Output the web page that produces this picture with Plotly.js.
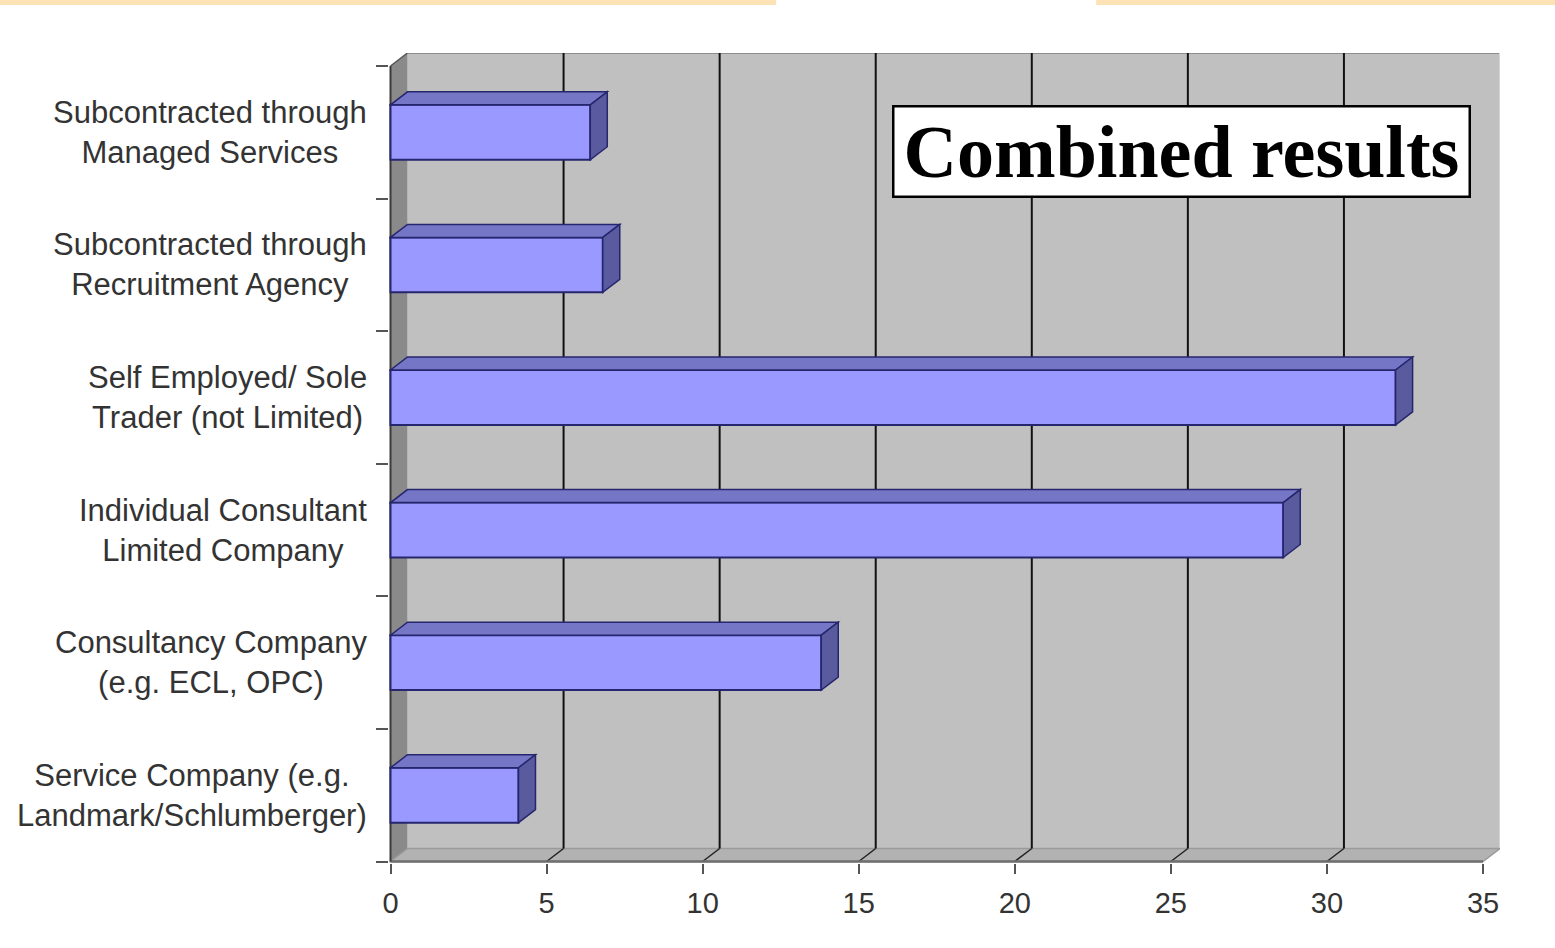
<!DOCTYPE html>
<html>
<head>
<meta charset="utf-8">
<script src="https://cdn.plot.ly/plotly-3.0.1.min.js"></script>
<style>
  html, body { margin: 0; padding: 0; background: #ffffff; }
  #chart { width: 1555px; height: 948px; }
</style>
</head>
<body>
<div id="chart"></div>
<script>
// Employment route categories, listed top to bottom
const categories = [
  'Subcontracted through<br>Managed Services',
  'Subcontracted through<br>Recruitment Agency',
  'Self Employed/ Sole<br>Trader (not Limited)',
  'Individual Consultant<br>Limited Company',
  'Consultancy Company<br>(e.g. ECL, OPC)',
  'Service Company (e.g.<br>Landmark/Schlumberger)'
];
const values = [6.4, 6.8, 32.2, 28.6, 13.8, 4.1];
const xTicks = [0, 5, 10, 15, 20, 25, 30, 35];
const chartTitle = 'Combined results';

// ---- page geometry (pixels) ----
const W = 1555, H = 948;
const X0 = 390.5, XEND = 1482.7;      // front plane: x = 0 and x = 35
const YTOP = 66, YBOT = 862;           // front plane: top and bottom of categories
const DX = 17, DY = 13;                // 3-D depth offset of back wall
const N = categories.length;
const XMAX = xTicks[xTicks.length - 1];
const pxX = (XEND - X0) / XMAX;
const pxY = (YBOT - YTOP) / N;
const dxU = DX / pxX, dyU = DY / pxY;
const padL = 1.5, padB = 1.5;

const plotL = X0 - padL, plotR = XEND + DX;
const plotT = YTOP - DY, plotB = YBOT + padB;
const plotW = plotR - plotL, plotH = plotB - plotT;
const px2x = px => (px - plotL) / plotW;
const px2y = py => (plotB - py) / plotH;

const yPos = categories.map((_, i) => N - 1 - i);
const barW = 0.414;

const yLo = -0.5, yHi = N - 0.5;
const shapes = [];

// back wall
shapes.push({type: 'rect', layer: 'below', xref: 'x', yref: 'y',
  x0: dxU, x1: XMAX + dxU, y0: yLo + dyU, y1: yHi + dyU,
  fillcolor: '#C0C0C0', line: {width: 0}});
// back wall top and right rims
shapes.push({type: 'line', layer: 'below', xref: 'x', yref: 'y',
  x0: dxU, x1: XMAX + dxU, y0: yHi + dyU, y1: yHi + dyU,
  line: {color: '#8E8E8E', width: 2}});
shapes.push({type: 'line', layer: 'below', xref: 'x', yref: 'y',
  x0: XMAX + dxU, x1: XMAX + dxU, y0: yLo + dyU, y1: yHi + dyU,
  line: {color: '#D6D6D6', width: 2}});
// left wall
shapes.push({type: 'path', layer: 'below', xref: 'x', yref: 'y',
  path: `M0,${yLo} L0,${yHi} L${dxU},${yHi + dyU} L${dxU},${yLo + dyU} Z`,
  fillcolor: '#8A8A8A', line: {width: 0}});
// floor
shapes.push({type: 'path', layer: 'below', xref: 'x', yref: 'y',
  path: `M0,${yLo} L${XMAX},${yLo} L${XMAX + dxU},${yLo + dyU} L${dxU},${yLo + dyU} Z`,
  fillcolor: '#B2B2B2', line: {color: '#9A9A9A', width: 1.5}});
// gridlines on the back wall and their traces across the floor
xTicks.filter(v => v > 0 && v < XMAX).forEach(v => {
  shapes.push({type: 'line', layer: 'below', xref: 'x', yref: 'y',
    x0: v + dxU, x1: v + dxU, y0: yLo + dyU, y1: yHi + dyU,
    line: {color: '#111111', width: 2}});
  shapes.push({type: 'line', layer: 'below', xref: 'x', yref: 'y',
    x0: v, x1: v + dxU, y0: yLo, y1: yLo + dyU,
    line: {color: '#222222', width: 1.5}});
});
// front axis edges
shapes.push({type: 'line', layer: 'below', xref: 'x', yref: 'y',
  x0: 0, x1: XMAX, y0: yLo, y1: yLo, line: {color: '#6E6E6E', width: 2.5}});
shapes.push({type: 'line', layer: 'below', xref: 'x', yref: 'y',
  x0: 0, x1: 0, y0: yLo, y1: yHi, line: {color: '#3A3A3A', width: 2}});
shapes.push({type: 'line', layer: 'below', xref: 'x', yref: 'y',
  x0: 0, x1: dxU, y0: yHi, y1: yHi + dyU, line: {color: '#555555', width: 1.5}});

// top and side faces of each bar
const edge = '#26266E';
values.forEach((v, i) => {
  const yc = yPos[i], t = yc + barW / 2, b = yc - barW / 2;
  shapes.push({type: 'path', layer: 'above', xref: 'x', yref: 'y',
    path: `M0,${t} L${v},${t} L${v + dxU},${t + dyU} L${dxU},${t + dyU} Z`,
    fillcolor: '#7676C6', line: {color: edge, width: 1.5}});
  shapes.push({type: 'path', layer: 'above', xref: 'x', yref: 'y',
    path: `M${v},${b} L${v},${t} L${v + dxU},${t + dyU} L${v + dxU},${b + dyU} Z`,
    fillcolor: '#5A5A9E', line: {color: edge, width: 1.5}});
});

// decorative band along the top of the page
shapes.push({type: 'rect', xref: 'paper', yref: 'paper', layer: 'below',
  x0: px2x(0), x1: px2x(776), y0: px2y(5), y1: px2y(0),
  fillcolor: '#FDE2B6', line: {width: 0}});
shapes.push({type: 'rect', xref: 'paper', yref: 'paper', layer: 'below',
  x0: px2x(1096), x1: px2x(W), y0: px2y(5), y1: px2y(0),
  fillcolor: '#FDE2B6', line: {width: 0}});

// category labels, centred lines, right edge against the axis
const annotations = categories.map((c, i) => ({
  xref: 'paper', yref: 'y', x: px2x(369), y: yPos[i],
  xanchor: 'right', yanchor: 'middle', align: 'center', showarrow: false,
  text: c, font: {family: 'Liberation Sans, Arial, sans-serif', size: 31, color: '#333333'}
}));
// boxed chart title
annotations.push({
  xref: 'paper', yref: 'paper', x: px2x(1181.5), y: px2y(151.5),
  xanchor: 'center', yanchor: 'middle', showarrow: false,
  text: '<b>' + chartTitle + '</b>',
  font: {family: 'Liberation Serif, Times New Roman, serif', size: 74, color: '#000000'},
  bgcolor: '#FFFFFF', bordercolor: '#000000', borderwidth: 2.5, borderpad: 2,
  width: 570, height: 84
});

const trace = {
  type: 'bar', orientation: 'h',
  x: values, y: yPos, width: barW,
  marker: {color: '#9999FF', line: {color: edge, width: 2}},
  hoverinfo: 'skip'
};

const layout = {
  width: W, height: H,
  margin: {l: plotL, r: W - plotR, t: plotT, b: H - plotB, pad: 0},
  paper_bgcolor: '#FFFFFF', plot_bgcolor: 'rgba(0,0,0,0)',
  showlegend: false,
  xaxis: {
    range: [-padL / pxX, XMAX + dxU], fixedrange: true,
    tickvals: xTicks, ticks: 'outside', ticklen: 10, tickwidth: 2, tickcolor: '#555555',
    ticklabelstandoff: 4,
    tickfont: {family: 'Liberation Sans, Arial, sans-serif', size: 29, color: '#333333'},
    showgrid: false, zeroline: false, showline: false
  },
  yaxis: {
    range: [yLo - padB / pxY, yHi + dyU], fixedrange: true,
    tickvals: Array.from({length: N + 1}, (_, k) => k - 0.5),
    ticks: 'outside', ticklen: 12, tickwidth: 2, tickcolor: '#555555',
    showticklabels: false, showgrid: false, zeroline: false, showline: false
  },
  shapes: shapes,
  annotations: annotations
};

Plotly.newPlot('chart', [trace], layout, {staticPlot: true, displayModeBar: false});
</script>
</body>
</html>
